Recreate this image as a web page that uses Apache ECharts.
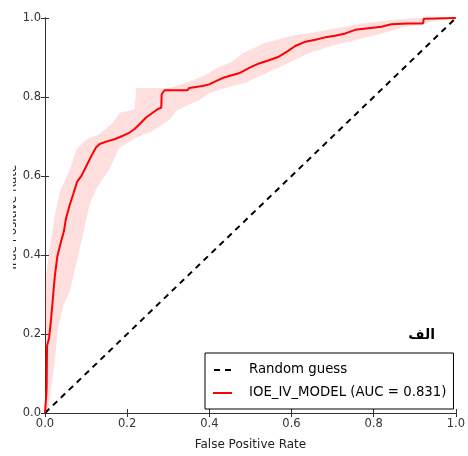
<!DOCTYPE html>
<html>
<head>
<meta charset="utf-8">
<script src="https://cdn.jsdelivr.net/npm/echarts@6/dist/echarts.min.js"></script>
<style>html,body{margin:0;padding:0;background:#fff}#c{width:468px;height:456px}</style>
</head>
<body>
<div id="c"></div>
<script>
// ---- data ----
var xTickLabels = ['0.0', '0.2', '0.4', '0.6', '0.8', '1.0'];
var yTickLabels = ['0.0', '0.2', '0.4', '0.6', '0.8', '1.0'];
var seriesNames = ['Random guess', 'IOE_IV_MODEL (AUC = 0.831)'];
var randomFpr = [0, 1];
var randomTpr = [0, 1];
var rocFpr = [0, 0.004, 0.005, 0.010, 0.015, 0.019, 0.024, 0.030, 0.040, 0.046, 0.051, 0.060, 0.069, 0.078, 0.089, 0.101, 0.113, 0.124, 0.133, 0.149, 0.169, 0.190, 0.206, 0.218, 0.230, 0.246, 0.262, 0.274, 0.283, 0.284, 0.291, 0.347, 0.351, 0.383, 0.400, 0.416, 0.432, 0.448, 0.472, 0.496, 0.521, 0.545, 0.569, 0.589, 0.609, 0.634, 0.658, 0.682, 0.706, 0.731, 0.755, 0.787, 0.819, 0.843, 0.884, 0.920, 0.922, 0.925, 1.0];
var rocTpr = [0, 0.06, 0.17, 0.19, 0.24, 0.287, 0.347, 0.396, 0.438, 0.46, 0.492, 0.526, 0.555, 0.585, 0.601, 0.626, 0.651, 0.672, 0.681, 0.687, 0.693, 0.702, 0.710, 0.719, 0.731, 0.748, 0.760, 0.769, 0.773, 0.807, 0.817, 0.817, 0.823, 0.828, 0.832, 0.840, 0.848, 0.853, 0.860, 0.873, 0.885, 0.893, 0.902, 0.915, 0.929, 0.940, 0.945, 0.951, 0.955, 0.961, 0.970, 0.974, 0.978, 0.984, 0.986, 0.986, 0.998, 1.0, 1.0];
var upperFpr = [0, 0, 0.004, 0.012, 0.024, 0.036, 0.061, 0.077, 0.101, 0.133, 0.165, 0.182, 0.218, 0.222, 0.303, 0.343, 0.383, 0.42, 0.455, 0.48, 0.533, 0.600, 0.645, 0.690, 0.771, 0.876, 0.90, 1.0];
var upperTpr = [0, 0.33, 0.36, 0.42, 0.50, 0.56, 0.618, 0.668, 0.693, 0.706, 0.735, 0.760, 0.769, 0.823, 0.823, 0.836, 0.852, 0.874, 0.889, 0.91, 0.936, 0.955, 0.962, 0.970, 0.986, 0.998, 1.0, 1.0];
var lowerFpr = [0.007, 0.012, 0.024, 0.031, 0.044, 0.061, 0.085, 0.109, 0.125, 0.157, 0.18, 0.222, 0.258, 0.303, 0.32, 0.343, 0.375, 0.40, 0.45, 0.488, 0.525, 0.572, 0.609, 0.645, 0.690, 0.738, 0.787, 0.835, 0.876, 0.924, 0.973, 1.0];
var lowerTpr = [0.0, 0.04, 0.13, 0.21, 0.27, 0.31, 0.417, 0.53, 0.568, 0.618, 0.67, 0.698, 0.712, 0.742, 0.765, 0.777, 0.792, 0.81, 0.826, 0.836, 0.854, 0.876, 0.895, 0.912, 0.927, 0.940, 0.952, 0.965, 0.977, 0.987, 0.998, 1.0];
var yAxisTitle = 'True Positive Rate';
var xAxisTitle = 'False Positive Rate';
var panelTag = 'الف';

// ---- build ----
function pairs(xs, ys) { return xs.map(function (x, i) { return [x, ys[i]]; }); }
var FONT = 'DejaVu Sans';
var chart = echarts.init(document.getElementById('c'), null, { renderer: 'canvas' });

function tickFmt(labels) {
  return function (v) { return labels[Math.round(v / 0.2)]; };
}
var axisCommon = {
  type: 'value', min: 0, max: 1, interval: 0.2,
  axisLine: { show: true, lineStyle: { color: '#333', width: 1 } },
  axisTick: { show: true, inside: true, length: 4, lineStyle: { color: '#333', width: 1 } },
  splitLine: { show: false }
};
function ax(extra) { return Object.assign({}, JSON.parse(JSON.stringify(axisCommon)), extra); }

var option = {
  animation: false,
  backgroundColor: '#fff',
  grid: { left: 45, right: 10, top: 18, bottom: 40 },
  xAxis: [
    ax({ position: 'bottom',
      axisLabel: { formatter: tickFmt(xTickLabels), margin: 5, fontSize: 11.5, color: '#333', fontFamily: FONT },
      name: xAxisTitle, nameLocation: 'middle', nameGap: 26,
      nameTextStyle: { fontSize: 12, color: '#222', fontFamily: FONT } }),
    ax({ position: 'top', axisLabel: { show: false } })
  ],
  yAxis: [
    ax({ position: 'left',
      axisLabel: { formatter: tickFmt(yTickLabels), margin: 4, fontSize: 11.5, color: '#333', fontFamily: FONT } }),
    ax({ position: 'right', axisLabel: { show: false } })
  ],
  legend: {
    orient: 'vertical', left: 205, top: 353,
    padding: [9, 7, 8, 8], itemGap: 7, itemWidth: 19, itemHeight: 2,
    borderColor: '#000', borderWidth: 1, borderRadius: 0, backgroundColor: '#fff',
    textStyle: { fontSize: 13.3, fontFamily: FONT, color: '#000', padding: [0, 0, 0, 12], lineHeight: 16 },
    data: [
      { name: seriesNames[0], icon: 'path://M0,0H6V2H0Z M11,0H17V2H11Z', itemStyle: { color: '#000' } },
      { name: seriesNames[1], icon: 'rect', itemStyle: { color: '#ff0000' } }
    ]
  },
  series: [
    {
      type: 'custom', name: 'band', silent: true, z: 1,
      xAxisIndex: 0, yAxisIndex: 0,
      data: [[0, 0]],
      renderItem: function (params, api) {
        var pts = [];
        for (var i = 0; i < upperFpr.length; i++) pts.push(api.coord([upperFpr[i], upperTpr[i]]));
        for (var j = lowerFpr.length - 1; j >= 0; j--) pts.push(api.coord([lowerFpr[j], lowerTpr[j]]));
        return { type: 'polygon', shape: { points: pts }, style: { fill: 'rgba(255,0,0,0.13)' } };
      }
    },
    {
      type: 'line', name: seriesNames[0], data: pairs(randomFpr, randomTpr),
      symbol: 'none', z: 3,
      lineStyle: { color: '#000', width: 2, type: [6, 5] },
      itemStyle: { color: '#000' }
    },
    {
      type: 'line', name: seriesNames[1], data: pairs(rocFpr, rocTpr),
      symbol: 'none', z: 4,
      lineStyle: { color: '#ff0000', width: 2 },
      itemStyle: { color: '#ff0000' }
    }
  ],
  graphic: [
    { type: 'text', z: 10, x: 435, y: 335,
      style: { text: panelTag, font: 'bold 14px "DejaVu Sans"', fill: '#000', textAlign: 'right', textVerticalAlign: 'middle' } },
    { type: 'text', z: 10, x: 19, y: 218, rotation: Math.PI / 2,
      style: { text: yAxisTitle, font: '12px "DejaVu Sans"', fill: '#222', textAlign: 'center', textVerticalAlign: 'bottom' } },
    { type: 'rect', z: 11, shape: { x: 0, y: 0, width: 13, height: 456 }, style: { fill: '#fff' } }
  ]
};
chart.setOption(option);
</script>
</body>
</html>
